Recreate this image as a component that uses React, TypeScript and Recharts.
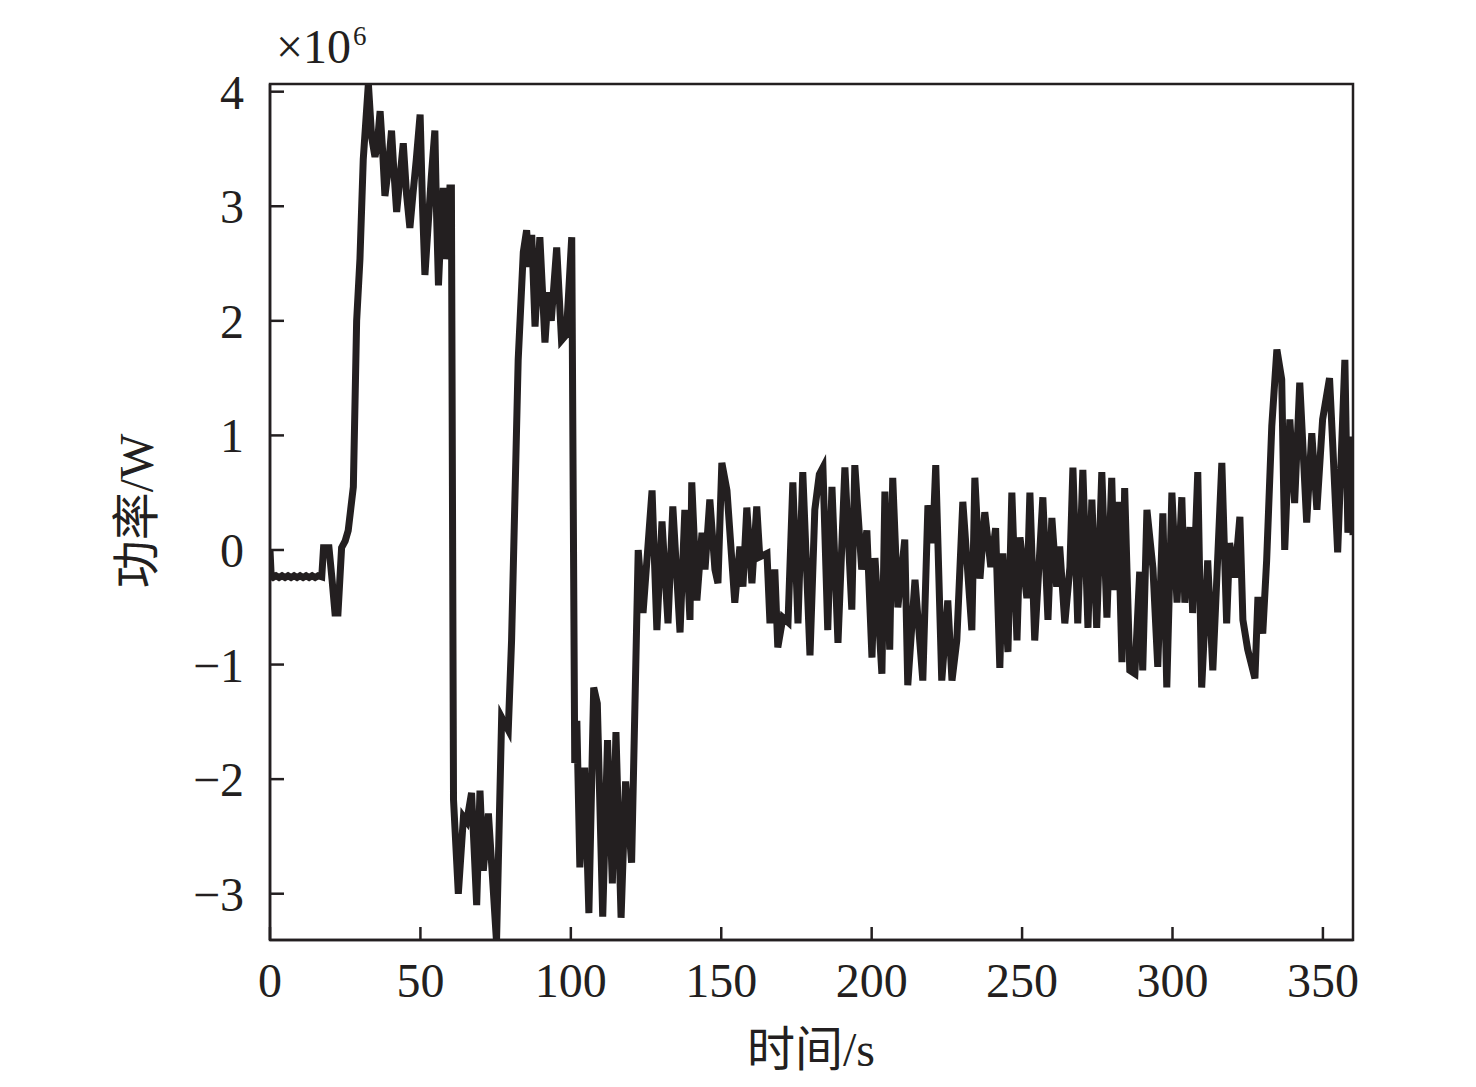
import React from 'react';
import { LineChart, Line, XAxis, YAxis, ReferenceArea } from 'recharts';

// time axis (s)
const timeS = [
  0, 0.4, 1, 2, 3, 4, 5, 6, 7, 8, 9, 10, 11, 12, 13, 14, 15, 16, 17.2, 17.8,
  19.6, 20.6, 21.6, 22.6, 23.8, 25.0, 26.0, 27.7, 28.8, 29.9, 31.0, 32.7,
  33.8, 34.9, 35.7, 36.6, 37.4, 38.2, 39.2, 40.4, 41.2, 42.1, 43.2, 44.3, 45.4, 46.5,
  47.5, 48.6, 49.9, 50.7, 51.5, 52.6, 53.6, 54.8, 55.4, 56.0, 56.8, 57.6, 58.2, 59.0,
  59.8, 60.3,
  61.0, 62.6, 64.3, 65.4, 67.0, 68.7, 69.8, 70.9, 72.6, 73.7, 75.3, 77.0, 79.2, 80.3,
  82.5, 84.2, 85.3, 86.2, 87.0, 88.1, 89.7, 90.5, 91.4, 92.5, 93.5, 95.3, 96.9, 98.5,
  100.3, 101.3, 102.0, 103.0, 104.6, 106.0, 107.6, 108.8, 110.6, 112.2, 113.8, 115.0,
  116.7, 118.2, 120.2, 122.4,
  124.0, 127.0, 128.6, 130.3, 132.3, 133.9, 136.3, 137.9, 139.6, 140.2, 141.9, 143.6,
  144.6, 146.2, 147.9, 148.9, 150.2, 151.9, 154.5, 156.2, 157.2, 158.5, 160.2, 161.8,
  162.8, 165.2, 166.2, 167.8, 168.8, 170.5, 172.2, 173.8, 175.5, 177.1, 179.5, 181.1,
  182.6, 183.8, 185.4, 186.8, 188.8, 191.1, 193.4, 194.4, 196.7, 198.4, 200.1, 201.1,
  203.4, 204.4, 206.0, 207.0, 208.7, 211.0, 212.0, 214.4, 217.0, 218.7, 220.3, 221.3,
  223.3, 225.3, 226.7, 228.3, 230.3, 233.3, 234.3, 236.0, 237.6, 239.6, 241.2, 242.6,
  243.6, 245.3, 246.6, 248.3, 249.3, 251.6, 252.6, 254.2, 256.9, 258.6, 259.9, 261.5,
  262.5, 264.2, 265.9, 266.9, 268.5, 270.2, 271.9, 273.2, 274.8, 276.5, 278.2, 279.8,
  280.8, 281.8, 283.2, 284.1, 285.8, 287.5, 289.1, 290.1, 291.5, 293.5, 295.1, 296.8,
  298.1, 299.8, 301.5, 303.1, 304.1, 305.8, 306.7, 308.4, 309.7, 311.7, 313.4, 316.4,
  318.0, 319.0, 320.7, 322.4, 323.4, 325.0, 327.4, 328.4, 330.0, 331.3, 333.0, 334.7,
  336.3, 337.3, 339.0, 340.6, 342.3, 344.6, 346.3, 348.0, 349.9, 352.2, 353.3, 354.9,
  357.3, 358.3, 359.6, 360.0,
];

// power, in units of 10^6 W
const powerE6 = [
  0.0, -0.23, -0.24, -0.225, -0.24, -0.225, -0.24, -0.225, -0.24, -0.225, -0.24, -0.225, -0.24, -0.225, -0.24, -0.225, -0.24, -0.225, -0.235, 0.02,
  0.02, -0.25, -0.55, -0.55, 0.02, 0.08, 0.17, 0.55, 2.0, 2.54, 3.41, 4.07,
  3.6, 3.43, 3.55, 3.83, 3.5, 3.09, 3.3, 3.66, 3.3, 2.95, 3.25, 3.55, 3.1, 2.81,
  3.1, 3.4, 3.8, 3.0, 2.4, 2.85, 3.25, 3.66, 2.9, 2.31, 2.8, 3.16, 2.54, 2.7,
  3.16, 3.16,
  -2.18, -3.0, -2.33, -2.37, -2.12, -3.1, -2.1, -2.8, -2.3, -2.75, -3.42, -1.46, -1.57, -0.79,
  1.66, 2.6, 2.79, 2.47, 2.75, 1.95, 2.73, 2.3, 1.81, 2.25, 2.0, 2.64, 1.83, 1.88,
  2.73, -1.86, -1.49, -2.77, -1.9, -3.17, -1.2, -1.34, -3.2, -1.66, -2.91, -1.59,
  -3.21, -2.02, -2.73, 0.0,
  -0.55, 0.52, -0.7, 0.25, -0.64, 0.38, -0.72, 0.35, -0.61, 0.59, -0.44, 0.15,
  -0.17, 0.44, -0.17, -0.29, 0.76, 0.52, -0.46, 0.03, -0.32, 0.37, -0.29, 0.38,
  -0.06, -0.03, -0.64, -0.17, -0.85, -0.59, -0.63, 0.59, -0.64, 0.68, -0.92, 0.35,
  0.66, 0.72, -0.7, 0.55, -0.81, 0.72, -0.52, 0.74, -0.17, 0.17, -0.94, -0.07,
  -1.08, 0.51, -0.87, 0.63, -0.5, 0.09, -1.18, -0.26, -1.14, 0.39, 0.06, 0.74,
  -1.14, -0.44, -1.14, -0.79, 0.42, -0.7, 0.63, -0.25, 0.33, -0.15, 0.19, -1.03,
  -0.03, -0.89, 0.5, -0.79, 0.11, -0.42, 0.5, -0.79, 0.46, -0.61, 0.28, -0.32,
  0.03, -0.64, -0.15, 0.72, -0.64, 0.7, -0.68, 0.44, -0.68, 0.68, -0.59, 0.63,
  -0.35, 0.42, -0.98, 0.54, -1.05, -1.08, -0.19, -1.05, 0.35, -0.16, -1.02, 0.32,
  -1.2, 0.5, -0.46, 0.46, -0.46, 0.2, -0.55, 0.68, -1.2, -0.09, -1.05, 0.76,
  -0.64, 0.06, -0.24, 0.29, -0.61, -0.87, -1.12, -0.41, -0.73, -0.09, 1.08, 1.75,
  1.49, 0.0, 1.14, 0.41, 1.46, 0.24, 1.02, 0.35, 1.14, 1.5, 0.9, -0.02,
  1.66, 0.15, 0.99, 0.13,
];

const xTicks = [0, 50, 100, 150, 200, 250, 300, 350];
const yTicks = [-3, -2, -1, 0, 1, 2, 3, 4];
const xDomain = [0, 360];
const yDomain = [-3.404, 4.067];

const data = timeS.map((t, i) => ({ t, p: powerE6[i] }));

const INK = '#231f20';
const FONT = '"Liberation Serif", "Times New Roman", "Noto Sans CJK SC", serif';

const fmtY = (v: number) => (v < 0 ? '\u2212' + Math.abs(v) : String(v));

export default function App() {
  const axisLine = { stroke: INK, strokeWidth: 2.5 };
  const tickStyle = { fill: INK, fontSize: 48, fontFamily: FONT };

  return (
    <div style={{ position: 'absolute', left: 0, top: 0, width: 1476, height: 1087, background: '#fff' }}>
      <LineChart width={1476} height={1087} data={data} margin={{ top: 84, right: 123, bottom: 0, left: 0 }}>
        <XAxis
          dataKey="t"
          type="number"
          domain={xDomain}
          ticks={xTicks}
          interval={0}
          allowDataOverflow
          height={147}
          tickSize={-13}
          tickMargin={36}
          axisLine={axisLine}
          tickLine={axisLine}
          tick={tickStyle}
        />
        <YAxis
          type="number"
          domain={yDomain}
          ticks={yTicks}
          interval={0}
          allowDataOverflow
          width={270}
          tickSize={-14}
          tickMargin={40}
          tickFormatter={fmtY}
          axisLine={axisLine}
          tickLine={axisLine}
          tick={tickStyle}
        />
        {/* box around the plot */}
        <ReferenceArea
          x1={xDomain[0]}
          x2={xDomain[1]}
          y1={yDomain[0]}
          y2={yDomain[1]}
          fill="none"
          fillOpacity={0}
          stroke={INK}
          strokeWidth={2.5}
          ifOverflow="visible"
        />
        <Line
          dataKey="p"
          type="linear"
          stroke={INK}
          strokeWidth={7}
          dot={false}
          activeDot={false}
          isAnimationActive={false}
        />
      </LineChart>

      {/* axis titles and the exponent, drawn over the chart */}
      <svg
        width={1476}
        height={1087}
        style={{ position: 'absolute', left: 0, top: 0, pointerEvents: 'none' }}
      >
        <text x={276} y={63} fontSize={48} fontFamily={FONT} fill={INK}>
          ×10
        </text>
        <text x={353} y={45} fontSize={27} fontFamily={FONT} fill={INK}>
          6
        </text>
        <text
          x={153}
          y={511}
          fontSize={48}
          fontFamily={FONT}
          fill={INK}
          textAnchor="middle"
          transform="rotate(-90 153 511)"
        >
          功率/W
        </text>
        <text x={811} y={1066} fontSize={48} fontFamily={FONT} fill={INK} textAnchor="middle">
          时间/s
        </text>
      </svg>
    </div>
  );
}
